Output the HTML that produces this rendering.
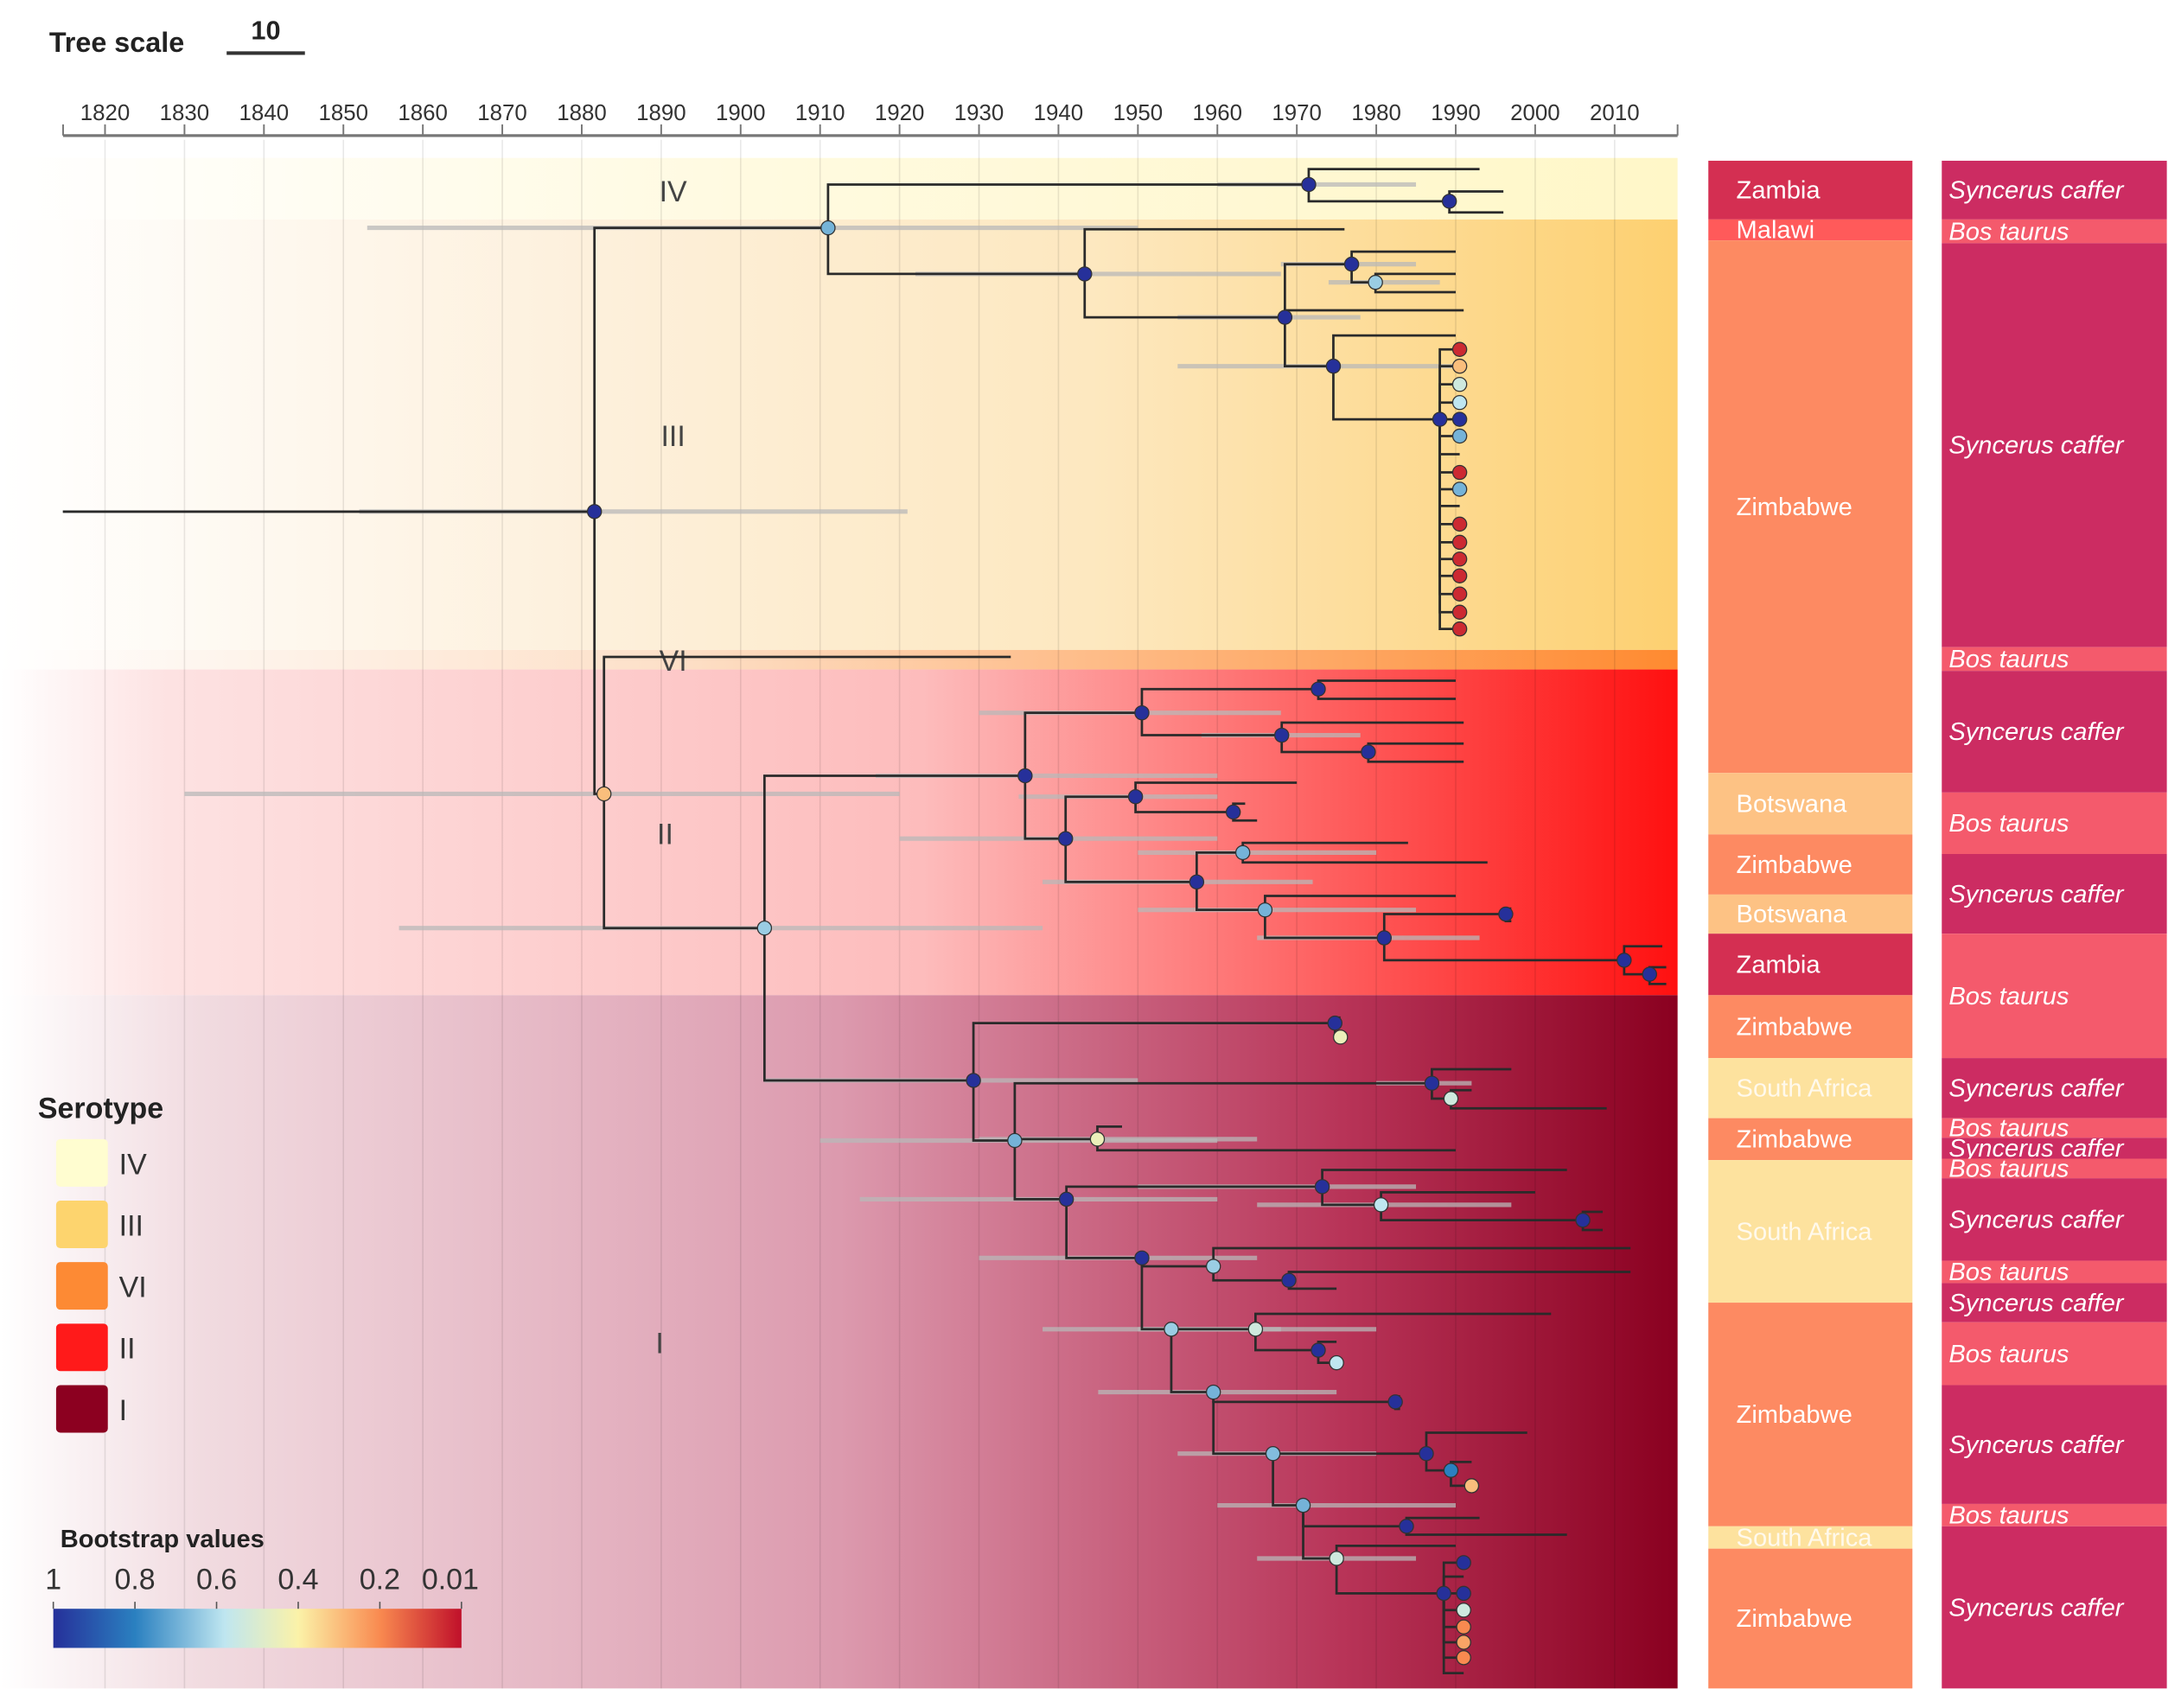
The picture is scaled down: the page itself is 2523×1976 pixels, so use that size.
<!DOCTYPE html>
<html><head><meta charset="utf-8"><title>Phylogenetic tree</title>
<style>
html,body{margin:0;padding:0;background:#fff;}
svg{display:block;font-family:"Liberation Sans",Arial,sans-serif;}
</style></head>
<body>
<svg id="chart" width="2523" height="1976" viewBox="0 0 1560 1222" xmlns="http://www.w3.org/2000/svg">
<defs>
<linearGradient id="gIV" x1="0" x2="1200" gradientUnits="userSpaceOnUse"><stop offset="0" stop-color="#fff"/><stop offset="0.45" stop-color="#fffae0"/><stop offset="1" stop-color="#fff7c8"/></linearGradient>
<linearGradient id="gIII" x1="0" x2="1200" gradientUnits="userSpaceOnUse"><stop offset="0" stop-color="#fff"/><stop offset="0.35" stop-color="#fdf0dc"/><stop offset="0.65" stop-color="#fde8c0"/><stop offset="1" stop-color="#fdd070"/></linearGradient>
<linearGradient id="gVI" x1="0" x2="1200" gradientUnits="userSpaceOnUse"><stop offset="0" stop-color="#fff"/><stop offset="0.4" stop-color="#fde0c8"/><stop offset="1" stop-color="#ff8a30"/></linearGradient>
<linearGradient id="gII" x1="0" x2="1200" gradientUnits="userSpaceOnUse"><stop offset="0" stop-color="#fff"/><stop offset="0.1" stop-color="#fde2e2"/><stop offset="0.55" stop-color="#fdbcbc"/><stop offset="1" stop-color="#ff1010"/></linearGradient>
<linearGradient id="gI" x1="0" x2="1200" gradientUnits="userSpaceOnUse"><stop offset="0" stop-color="#fff"/><stop offset="0.12" stop-color="#f1dbe0"/><stop offset="0.5" stop-color="#dc9aae"/><stop offset="0.8" stop-color="#b83458"/><stop offset="1" stop-color="#8a0020"/></linearGradient>
<linearGradient id="gBar" x1="0" x2="1"><stop offset="0" stop-color="#26309a"/><stop offset="0.2" stop-color="#2a80c0"/><stop offset="0.42" stop-color="#bfe6f0"/><stop offset="0.6" stop-color="#fbf2a8"/><stop offset="0.8" stop-color="#f98a50"/><stop offset="1" stop-color="#c0102a"/></linearGradient>
</defs>
<g id="bands"></g>
<g id="grid"></g>
<g id="axis"></g>
<g id="ci"></g>
<g id="edges"></g>
<g id="markers"></g>
<g id="cols"></g>
<g id="legend"></g>
</svg>
<script>
// ---- axis data ----
const tickYears = [1820,1830,1840,1850,1860,1870,1880,1890,1900,1910,1920,1930,1940,1950,1960,1970,1980,1990,2000,2010];
// ---- serotype bands ----
const bandNames = ["IV","III","VI","II","I"];
const bandTop = [113,157,465,479,712];
const bandBottom = [157,465,479,712,1208];
const bandLabelY = [136,311,472,596,960];
const bandLabelYear = [1891.5,1891.5,1891.5,1890.5,1889.8];
// ---- tree nodes ----
const nodeParent = [-1,0,1,2,3,3,5,5,2,8,8,10,11,11,13,13,10,10,17,17,
 1,20,20,22,23,24,25,25,24,28,28,30,30,23,33,34,34,36,36,33,
 39,40,40,39,43,43,45,46,46,45,49,49,51,51,22,54,55,55,54,58,
 59,59,61,61,58,64,64,58,67,68,68,70,70,72,72,67,75,76,76,78,
 78,75,81,82,82,84,84,81,87,88,88,87,91,92,92,94,94,91,97,98,98,97,101,101,103,103,103,103,103,103,103,103,
 19,19,19,19,19,19,19,19,19,19,19,19,19,19,19,19,19];
const nodeYear = [1814.7,1881.6,1911,1971.5,1993,1989.2,1996,1996,1943.3,1976,1968.5,1976.9,1990,1979.9,1990,1990,1991,1974.6,1990,1988,
 1882.8,1934,1903,1935.8,1950.5,1972.7,1990,1990,1968.1,1991,1979,1991,1991,1940.9,1949.7,1970,1962,1963.5,1965,1957.4,
 1963.2,1984,1994,1966,1990,1981,1996.3,1997,1997,2011.2,2016,2014.4,2016.5,2016.5,1929.3,1974.8,1975.5,1975.5,1934.5,1987,
 1997,1989.4,1992,2009,1944.9,1948,1990,1941,1973.2,2004,1980.6,2000,2006,2008.5,2008.5,1950.5,1959.5,2012,1969,2012,
 1975,1954.2,1964.8,2002,1972.7,1975,1975,1959.5,1982.4,1983,1983,1967,1986.3,1999,1989.4,1992,1992,1970.8,1983.8,1993,2004,1975,1990,1988.5,1991,1991,1991,1991,1991,1991,1991,1991,
 1990.5,1990.5,1990.5,1990.5,1990.5,1990.5,1990.5,1990.5,1990.5,1990.5,1990.5,1990.5,1990.5,1990.5,1990.5,1990.5,1990.5];
const nodeY = [366,366,163,132,121,144,137,152,196,164,227,189,180,202,196,209,222,262,240,300,
 568,470,664,555,510,493,487,500,526,517,538,532,545,600,570,560,581,575,587,631,
 610,603,617,651,641,671,654,650,659,687,677,697,692,704,773,732,728,742,816,775,
 765,786,780,793,815,806,823,858,849,837,862,853,873,867,880,900,906,893,916,910,
 922,951,951,940,966,960,975,996,1003,999,1008,1040,1040,1025,1052,1046,1063,1077,1092,1086,1098,1115,1106,1140,1118,1128,1140,1152,1164,1175,1186,1197,
 250,262,275,288,300,312,325,338,350,362,375,388,400,412,425,438,450];
const nodeSupport = [null,1.0,0.7,1.0,null,1.0,null,null,1.0,null,1.0,1.0,null,0.65,null,null,null,1.0,null,1.0,
 0.3,null,0.65,1.0,1.0,1.0,null,null,1.0,null,1.0,null,null,1.0,1.0,null,1.0,null,null,1.0,
 0.7,null,null,0.7,null,1.0,1.0,null,null,1.0,null,1.0,null,null,1.0,1.0,null,0.45,0.7,1.0,
 null,0.55,null,null,0.45,null,null,1.0,1.0,null,0.6,null,1.0,null,null,1.0,0.65,null,1.0,null,
 null,0.65,0.55,null,1.0,null,0.6,0.7,1.0,null,null,0.68,1.0,null,0.8,null,0.3,0.7,1.0,null,null,0.55,null,1.0,1.0,null,1.0,0.55,0.2,0.25,0.2,null,
 0.05,0.3,0.55,0.6,1.0,0.7,null,0.05,0.7,null,0.05,0.05,0.05,0.05,0.05,0.05,0.05];
const ciLow = {1:1852,2:1853,3:1960,8:1922,10:1955,11:1968,13:1974,17:1955,20:1830,22:1857,23:1917,24:1930,28:1958,33:1920,34:1935,39:1938,40:1950,43:1950,45:1965,54:1903,58:1910,59:1980,64:1930,67:1915,68:1950,70:1965,75:1930,81:1938,82:1950,87:1945,91:1955,97:1960,101:1965};
const ciHigh = {1:1921,2:1950,3:1985,8:1968,10:1978,11:1985,13:1988,17:1990,20:1920,22:1938,23:1960,24:1968,28:1978,33:1960,34:1960,39:1972,40:1980,43:1985,45:1993,54:1950,58:1960,59:1992,64:1965,67:1960,68:1985,70:1997,75:1965,81:1968,82:1980,87:1975,91:1980,97:1990,101:1985};
// ---- metadata columns ----
const countryNames = ["Zambia","Malawi","Zimbabwe","Botswana","Zimbabwe","Botswana","Zambia","Zimbabwe","South Africa","Zimbabwe","South Africa","Zimbabwe","South Africa","Zimbabwe"];
const countryTop = [115,157,172,553,597,640,668,712,757,800,830,932,1092,1108];
const countryBottom = [157,172,553,597,640,668,712,757,800,830,932,1092,1108,1208];
const hostNames = ["Syncerus caffer","Bos taurus","Syncerus caffer","Bos taurus","Syncerus caffer","Bos taurus","Syncerus caffer","Bos taurus","Syncerus caffer","Bos taurus","Syncerus caffer","Bos taurus","Syncerus caffer","Bos taurus","Syncerus caffer","Bos taurus","Syncerus caffer","Bos taurus","Syncerus caffer"];
const hostTop = [115,157,174,463,480,567,611,668,757,800,814,829,843,902,918,946,991,1076,1092];
const hostBottom = [157,174,463,480,567,611,668,757,800,814,829,843,902,918,946,991,1076,1092,1208];
const supportTicks = ["1","0.8","0.6","0.4","0.2","0.01"];

const NS="http://www.w3.org/2000/svg";
function xs(year){return 75+(year-1820)*5.684;}
function mk(parent,tag,attrs,text){const e=document.createElementNS(NS,tag);for(const k in attrs)e.setAttribute(k,attrs[k]);if(text!==undefined)e.textContent=text;parent.appendChild(e);return e;}
function supColor(s){
 const st=[[1,[38,48,154]],[0.8,[42,128,192]],[0.6,[191,230,240]],[0.4,[251,242,168]],[0.2,[249,138,80]],[0.01,[192,16,42]]];
 for(let i=0;i<st.length-1;i++){const a=st[i],b=st[i+1];if(s<=a[0]&&s>=b[0]){const t=(a[0]-s)/(a[0]-b[0]);const c=a[1].map((v,j)=>Math.round(v+(b[1][j]-v)*t));return `rgb(${c.join(',')})`;}}
 return s>1?'rgb(38,48,154)':'rgb(192,16,42)';}

const gB=document.getElementById('bands'),gG=document.getElementById('grid'),gA=document.getElementById('axis'),gC=document.getElementById('ci'),gE=document.getElementById('edges'),gM=document.getElementById('markers'),gK=document.getElementById('cols'),gL=document.getElementById('legend');
const fills=["url(#gIV)","url(#gIII)","url(#gVI)","url(#gII)","url(#gI)"];
bandNames.forEach((n,i)=>{
 const r=mk(gB,'rect',{x:0,y:bandTop[i],width:1200,height:bandBottom[i]-bandTop[i],fill:fills[i]});
 
 
});
mk(gA,'line',{x1:45,x2:1200,y1:97,y2:97,stroke:'#777','stroke-width':2});
mk(gA,'line',{x1:45,x2:45,y1:89,y2:97,stroke:'#777','stroke-width':1.2});
mk(gA,'line',{x1:1200,x2:1200,y1:89,y2:97,stroke:'#777','stroke-width':1.2});
tickYears.forEach(yr=>{
 const x=xs(yr);
 const gl=mk(gG,'line',{x1:x,x2:x,y1:100,y2:1208,stroke:'#000','stroke-opacity':0.09,'stroke-width':1});
 
 
 mk(gA,'line',{x1:x,x2:x,y1:89,y2:97,stroke:'#777','stroke-width':1.2});
 const t=mk(gA,'text',{x:x,y:86,'text-anchor':'middle','font-size':16,fill:'#333'},String(yr));
 
 
});
bandNames.forEach((n,i)=>{
 const t=mk(gB,'text',{x:xs(bandLabelYear[i]),y:bandLabelY[i]+8,'text-anchor':'middle','font-size':21,fill:'#444'},n);
 
 
});
for(const k in ciLow){
 const i=+k;
 const l=mk(gC,'line',{x1:xs(ciLow[k]),x2:xs(ciHigh[k]),y1:nodeY[i],y2:nodeY[i],stroke:'#b8b8b8','stroke-width':3.2,'stroke-opacity':0.75});
 
 
}
for(let i=1;i<nodeParent.length;i++){
 const p=nodeParent[i];
 const px=xs(nodeYear[p]),cx=xs(nodeYear[i]);
 const path=mk(gE,'path',{d:`M${px},${nodeY[p]}V${nodeY[i]}H${cx}`,fill:'none',stroke:'#2a2a2a','stroke-width':1.7});
 
 
}
mk(gE,'line',{x1:xs(nodeYear[0]),x2:xs(nodeYear[1]),y1:nodeY[0],y2:nodeY[1],stroke:'#2a2a2a','stroke-width':1.7});
for(let i=0;i<nodeParent.length;i++){
 if(nodeSupport[i]===null)continue;
 const c=mk(gM,'circle',{cx:xs(nodeYear[i]),cy:nodeY[i],r:5,fill:supColor(nodeSupport[i]),stroke:'#333','stroke-width':0.8});
 
 
}
function colColor(n){return {"Zambia":"#d42f52","Malawi":"#ff5a5a","Zimbabwe":"#fd8a62","Botswana":"#fdc284","South Africa":"#fde29e"}[n];}
countryNames.forEach((n,i)=>{
 const h=countryBottom[i]-countryTop[i];
 const r=mk(gK,'rect',{x:1222,y:countryTop[i],width:146,height:h,fill:colColor(n)});
 
 
 const t=mk(gK,'text',{x:1242,y:countryTop[i]+h/2+6,'font-size':18,fill:'#fff','fill-opacity':n==="South Africa"?0.8:1},n);
 
 
});
hostNames.forEach((n,i)=>{
 const h=hostBottom[i]-hostTop[i];
 const r=mk(gK,'rect',{x:1389,y:hostTop[i],width:161,height:h,fill:n==="Bos taurus"?"#f45a6c":"#cc2c62"});
 
 
 const t=mk(gK,'text',{x:1394,y:hostTop[i]+h/2+6,'font-size':18,'font-style':'italic',fill:'#fff'},n);
 
 
});
const ts=mk(gL,'text',{x:35,y:37,'font-size':20,'font-weight':'bold',fill:'#222'},'Tree scale');

mk(gL,'text',{x:190,y:28,'font-size':19,'font-weight':'bold','text-anchor':'middle',fill:'#222'},'10');
mk(gL,'line',{x1:162,x2:218,y1:38,y2:38,stroke:'#333','stroke-width':2.5});
mk(gL,'text',{x:27,y:800,'font-size':21,'font-weight':'bold',fill:'#222'},'Serotype');
const swatch=["#fffdd0","#fdd46e","#fd8a34","#ff1a1a","#8c0020"];
bandNames.forEach((n,i)=>{
 const y=815+i*44;
 const r=mk(gL,'rect',{x:40,y:y,width:37,height:34,rx:3,fill:swatch[i]});
 
 
 const t=mk(gL,'text',{x:85,y:y+25,'font-size':21,fill:'#333'},n);
 
 
});
mk(gL,'text',{x:43,y:1107,'font-size':18,'font-weight':'bold',fill:'#222'},'Bootstrap values');
const cb=mk(gL,'rect',{x:38,y:1151,width:292,height:28,fill:'url(#gBar)'});


supportTicks.forEach((s,i)=>{
 const x=38+i*292/5;
 mk(gL,'line',{x1:x,x2:x,y1:1146,y2:1151,stroke:'#555','stroke-width':1});
 const t=mk(gL,'text',{x:i===5?x-8:x,y:1137,'font-size':21,'text-anchor':'middle',fill:'#333'},s);
 
 
});
</script>
</body></html>
